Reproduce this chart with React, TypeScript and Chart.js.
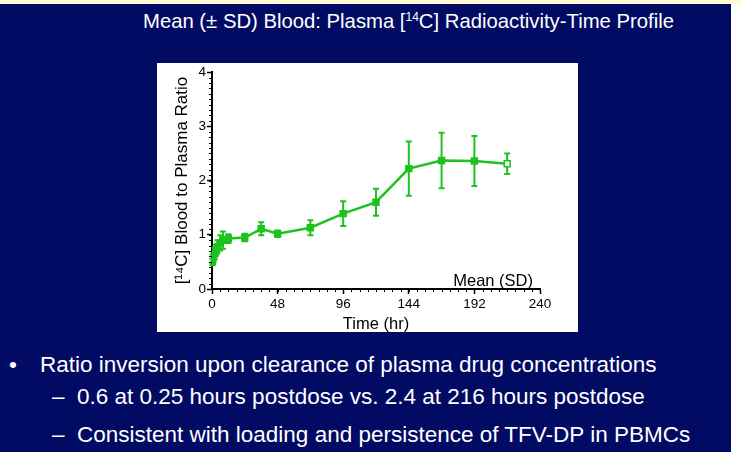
import React, { useEffect, useRef } from "react";
import { Chart, registerables } from "chart.js";

Chart.register(...registerables);

const timesHr = [0.25, 0.5, 1, 2, 3, 4, 6, 8, 12, 24, 36, 48, 72, 96, 120, 144, 168, 192, 216];
const meanRatio = [0.5, 0.55, 0.6, 0.66, 0.72, 0.78, 0.85, 0.9, 0.93, 0.95, 1.11, 1.02, 1.13, 1.39, 1.6, 2.22, 2.37, 2.36, 2.31];
const sdRatio = [0.06, 0.08, 0.08, 0.1, 0.1, 0.12, 0.14, 0.16, 0.08, 0.07, 0.12, 0.06, 0.14, 0.23, 0.25, 0.5, 0.51, 0.46, 0.19];
const xTicks = [0, 48, 96, 144, 192, 240];
const yTicks = [0, 1, 2, 3, 4];

const GREEN = "#1EC21E";
const FONT = "'Liberation Sans', Arial, sans-serif";

const errorBarPlugin = {
  id: "errorBars",
  beforeDatasetsDraw(chart: any) {
    const { ctx, scales } = chart;
    const xs = scales.x;
    const ys = scales.y;
    ctx.save();
    ctx.strokeStyle = GREEN;
    ctx.lineWidth = 2;
    timesHr.forEach((t, i) => {
      const px = xs.getPixelForValue(t);
      const top = ys.getPixelForValue(meanRatio[i] + sdRatio[i]);
      const bot = ys.getPixelForValue(meanRatio[i] - sdRatio[i]);
      ctx.beginPath();
      ctx.moveTo(px, top);
      ctx.lineTo(px, bot);
      ctx.moveTo(px - 3, top);
      ctx.lineTo(px + 3, top);
      ctx.moveTo(px - 3, bot);
      ctx.lineTo(px + 3, bot);
      ctx.stroke();
    });
    ctx.restore();
  },
  afterDraw(chart: any) {
    const { ctx, scales, chartArea } = chart;
    const xs = scales.x;
    const ys = scales.y;
    ctx.save();
    ctx.strokeStyle = "#000";
    ctx.lineWidth = 1;
    for (let v = 0; v <= 4.0001; v += 0.1) {
      const py = Math.round(ys.getPixelForValue(v)) + 0.5;
      ctx.beginPath();
      ctx.moveTo(chartArea.left - 3, py);
      ctx.lineTo(chartArea.left, py);
      ctx.stroke();
    }
    for (let v = 0; v <= 240; v += 6) {
      const px = Math.round(xs.getPixelForValue(v)) + 0.5;
      ctx.beginPath();
      ctx.moveTo(px, chartArea.bottom);
      ctx.lineTo(px, chartArea.bottom + 3);
      ctx.stroke();
    }
    ctx.fillStyle = "#000";
    ctx.font = `16.5px ${FONT}`;
    ctx.textAlign = "right";
    ctx.textBaseline = "alphabetic";
    ctx.fillText("Mean (SD)", chartArea.right - 7, chartArea.bottom - 3);
    ctx.restore();
  },
};

function ChartBox() {
  const ref = useRef<HTMLCanvasElement>(null);
  useEffect(() => {
    if (!ref.current) return;
    const chart = new Chart(ref.current, {
      type: "line",
      data: {
        datasets: [
          {
            data: timesHr.map((t, i) => ({ x: t, y: meanRatio[i] })),
            borderColor: GREEN,
            borderWidth: 2.5,
            pointStyle: "rect",
            pointRadius: 4.2,
            pointBorderWidth: 1.5,
            pointBorderColor: GREEN,
            pointBackgroundColor: timesHr.map((_, i) => (i === timesHr.length - 1 ? "#fff" : GREEN)),
            tension: 0,
          },
        ],
      },
      plugins: [errorBarPlugin],
      options: {
        animation: false,
        responsive: false,
        maintainAspectRatio: false,
        layout: { padding: { left: 0, right: 38, top: 7, bottom: 0 } },
        plugins: { legend: { display: false }, tooltip: { enabled: false } },
        scales: {
          x: {
            type: "linear",
            min: 0,
            max: 240,
            afterBuildTicks: (s: any) => {
              s.ticks = xTicks.map((v) => ({ value: v }));
            },
            afterFit: (s: any) => {
              s.height = 43;
            },
            ticks: { color: "#000", font: { family: FONT, size: 13.5 }, padding: 2, maxRotation: 0 },
            grid: { drawOnChartArea: false, drawTicks: true, tickLength: 5, tickColor: "#000", tickWidth: 1.5 },
            border: { color: "#000", width: 2 },
            title: { display: true, text: "Time (hr)", color: "#000", font: { family: FONT, size: 16.5 }, padding: { top: 0, bottom: -2 } },
          },
          y: {
            type: "linear",
            min: 0,
            max: 4,
            afterBuildTicks: (s: any) => {
              s.ticks = yTicks.map((v) => ({ value: v }));
            },
            afterFit: (s: any) => {
              s.width = 55;
            },
            ticks: { color: "#000", font: { family: FONT, size: 13.5 }, padding: 1 },
            grid: { drawOnChartArea: false, drawTicks: true, tickLength: 5, tickColor: "#000", tickWidth: 1.5 },
            border: { color: "#000", width: 2 },
            title: { display: true, text: "[¹⁴C] Blood to Plasma Ratio", color: "#000", font: { family: FONT, size: 17 }, padding: { top: 15, bottom: 0 } },
          },
        },
      },
    });
    return () => chart.destroy();
  }, []);
  return <canvas ref={ref} width={421} height={269} style={{ display: "block", width: 421, height: 269 }} />;
}

export default function App() {
  const line: React.CSSProperties = { position: "absolute", color: "#fff", fontFamily: FONT, fontSize: 22.5, whiteSpace: "nowrap", lineHeight: "26px" };
  return (
    <div style={{ position: "absolute", left: 0, top: 0, width: 742, height: 461, background: "#fff", overflow: "hidden" }}>
      <div style={{ position: "absolute", left: 0, top: 0, width: 742, height: 4, background: "#FFF9D8" }} />
      <div style={{ position: "absolute", left: 0, top: 4, width: 731, height: 448, background: "#020B63" }} />
      <div style={{ ...line, left: 143, top: 8, fontSize: 20.3, lineHeight: "26px" }}>
        Mean (± SD) Blood: Plasma [<sup style={{ fontSize: 12, verticalAlign: 7, lineHeight: 0 }}>14</sup>C] Radioactivity-Time Profile
      </div>
      <div style={{ position: "absolute", left: 157, top: 63, width: 421, height: 269, background: "#fff" }}>
        <ChartBox />
      </div>
      <div style={{ ...line, left: 9, top: 352 }}>•</div>
      <div style={{ ...line, left: 40, top: 352 }}>Ratio inversion upon clearance of plasma drug concentrations</div>
      <div style={{ ...line, left: 52, top: 384 }}>–</div>
      <div style={{ ...line, left: 77, top: 384 }}>0.6 at 0.25 hours postdose vs. 2.4 at 216 hours postdose</div>
      <div style={{ ...line, left: 52, top: 422 }}>–</div>
      <div style={{ ...line, left: 77, top: 422 }}>Consistent with loading and persistence of TFV-DP in PBMCs</div>
    </div>
  );
}
